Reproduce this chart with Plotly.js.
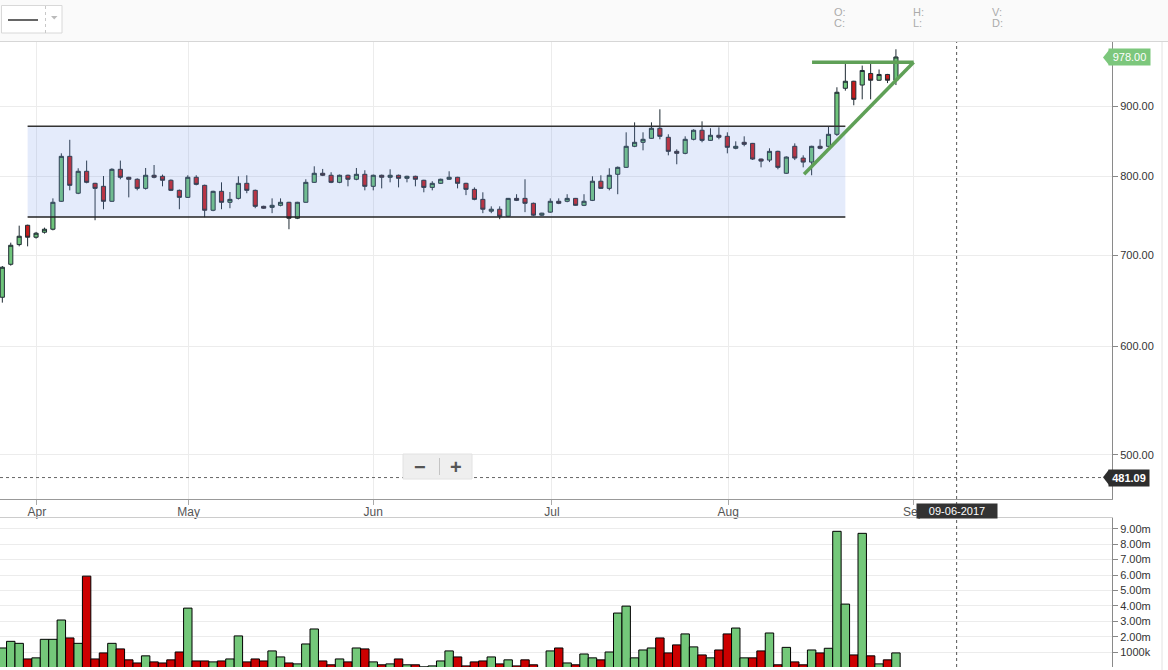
<!DOCTYPE html>
<html><head><meta charset="utf-8">
<script src="https://cdn.plot.ly/plotly-3.0.1.min.js"></script>
<style>html,body{margin:0;padding:0;background:#fff;}#chart{width:1168px;height:670px;}</style>
</head><body><div id="chart"></div>
<script>
// ---- data (trading-day index 0..106, late Mar .. end Aug 2017) ----
const opens  = [652.1,689.4,712.7,736.3,721.6,727.7,731.4,766.7,827.1,777.2,806.5,790.3,786.3,766.7,809.2,798.4,795.7,783.6,801.1,799.7,794.4,781.0,771.8,798.4,787.6,755.2,779.7,765.4,770.5,790.3,781.0,760.2,758.9,761.5,765.4,745.1,765.4,791.6,803.8,801.1,791.6,801.1,795.7,802.4,786.3,801.1,798.4,801.1,797.0,799.7,794.4,784.9,790.3,795.7,798.4,790.3,782.3,769.2,754.0,756.5,747.6,770.5,770.5,764.1,748.9,752.8,766.7,766.7,770.5,761.5,767.9,793.1,783.6,802.4,811.9,841.2,846.9,852.6,867.2,854.1,834.1,831.3,851.2,864.3,849.7,857.0,855.5,838.4,846.9,845.4,823.3,821.9,834.1,803.8,841.2,824.7,819.1,841.2,841.2,858.4,927.7,938.8,932.8,951.2,940.4,949.6,940.4];
const highs  = [687.4,715.0,735.8,737.0,728.1,733.4,770.5,831.3,850.5,810.6,821.2,791.0,800.1,810.6,821.2,799.0,797.0,811.0,815.1,802.0,795.5,782.0,801.1,801.1,788.5,780.5,791.6,778.8,799.7,801.1,782.0,761.0,770.5,770.5,766.0,766.0,795.7,813.3,809.7,805.2,802.0,802.0,811.0,807.9,802.0,802.0,809.2,802.0,800.5,800.5,795.0,793.1,796.5,806.5,799.0,791.0,784.9,778.4,760.2,760.2,771.0,775.9,795.7,765.0,752.0,770.5,770.5,775.9,771.0,775.9,799.7,801.1,810.6,813.0,861.3,875.9,861.3,875.9,895.4,858.4,836.9,855.5,865.7,877.4,867.2,868.6,861.3,848.3,855.5,846.0,824.0,838.4,835.0,827.0,845.4,828.5,842.0,851.2,870.0,929.3,970.4,939.5,963.9,970.4,957.6,950.5,990.8];
const lows   = [646.2,687.8,710.6,710.6,719.9,726.0,730.0,766.0,781.0,776.0,790.3,742.6,756.5,766.0,795.7,771.8,781.0,782.0,797.0,786.3,780.0,756.5,771.0,787.6,746.4,754.0,756.5,757.8,769.0,777.2,757.8,757.0,751.5,760.2,731.4,744.0,765.0,791.0,800.0,790.5,790.5,786.3,794.4,781.0,781.0,783.6,791.6,784.9,791.6,786.3,778.4,781.0,789.5,795.0,783.6,774.7,768.0,751.5,751.5,743.9,747.0,767.0,752.8,748.0,748.0,752.0,763.0,765.4,761.0,760.5,767.0,783.0,781.0,775.9,811.0,840.0,835.5,852.0,851.2,828.5,816.1,830.0,849.7,846.9,849.0,851.2,831.3,837.0,841.2,822.0,811.9,819.1,809.2,803.0,821.9,811.9,801.1,837.0,840.0,856.0,924.0,901.5,910.6,910.6,939.5,935.9,932.8];
const closes = [686.0,711.9,722.8,721.6,726.5,731.4,765.4,827.1,787.6,806.5,791.6,783.6,766.7,809.2,798.4,795.7,783.6,801.1,798.4,794.4,781.0,771.8,798.4,788.9,755.2,779.7,765.4,769.2,790.3,781.0,760.2,757.8,761.5,765.4,745.1,765.4,791.6,803.8,801.1,791.6,801.1,795.7,802.4,786.3,801.1,798.4,801.1,797.0,799.7,795.7,784.9,790.3,795.7,798.4,790.3,782.3,769.2,756.5,756.5,747.6,770.5,767.9,764.1,748.9,751.5,766.7,764.1,770.5,761.5,766.7,793.1,783.6,801.1,811.9,841.2,846.9,851.2,867.2,855.5,834.1,831.3,851.2,864.3,849.7,857.0,854.1,839.8,841.2,844.0,823.3,820.5,834.1,811.9,826.1,824.7,819.1,841.2,838.4,858.4,921.5,938.8,910.6,956.0,940.4,949.6,940.4,978.0];
// volume in millions of shares, and bar direction as drawn (1 = up/green, 0 = down/red)
const volumesM = [1.28,1.71,1.58,0.57,0.64,1.84,1.84,3.09,1.93,1.58,5.93,0.57,0.96,1.58,1.22,0.51,0.31,0.77,0.38,0.31,0.51,1.02,3.86,0.44,0.44,0.38,0.44,0.57,2.06,0.38,0.57,0.44,1.09,0.70,0.31,0.25,1.54,2.51,0.44,0.19,0.57,0.38,1.28,1.22,0.38,0.19,0.25,0.57,0.19,0.19,0.06,0.12,0.44,1.09,0.70,0.12,0.38,0.44,0.70,0.25,0.51,0.12,0.51,0.19,0.0,1.09,1.28,0.31,0.19,0.89,0.64,0.51,1.02,3.54,3.99,0.64,1.15,1.28,1.93,0.96,1.48,2.19,1.35,0.83,0.64,1.15,2.19,2.57,0.64,0.64,1.09,2.25,0.19,1.32,0.38,0.19,1.15,0.96,1.26,8.83,4.12,0.83,8.70,0.77,0.25,0.51,0.96];
const volumeUp = [1,1,1,0,1,1,1,1,0,1,0,0,0,1,0,0,0,1,0,0,0,0,1,0,0,1,0,1,1,0,0,0,1,1,0,1,1,1,0,0,1,0,1,0,1,0,1,0,1,0,1,1,1,1,0,0,0,0,1,0,1,0,0,0,1,1,0,1,0,1,1,0,1,1,1,1,1,1,0,0,0,1,1,0,1,0,0,1,1,0,0,1,0,1,0,0,1,0,1,1,1,0,1,0,1,0,1];
const monthTickPos  = [4.1, 22.1, 44.0, 65.2, 86.1, 108.1];
const monthTickText = ['Apr','May','Jun','Jul','Aug','Sep'];
const priceTickVals = [500, 600, 700, 800, 900];
const volumeTickVals = [1,2,3,4,5,6,7,8,9];
const volumeTickText = ['1000k','2.00m','3.00m','4.00m','5.00m','6.00m','7.00m','8.00m','9.00m'];
// drawn annotations: consolidation range, triangle, crosshair
const rangeStart = 3, rangeEnd = 100, rangeHigh = 870.0, rangeLow = 746.5;
const triStartX = 95.1, triStartY = 802.4, triLeftX = 96.05, triEndX = 108.1, triTopY = 969.3;
const crossIndex = 113.2, crossPrice = 481.09, crossDate = '09-06-2017';

// ---- figure ----
const W = 1112, H = 625, T = 42;
const px = p => p / W;               // pixel x -> paper
const py = p => (T + H - p) / H;     // pixel y -> paper
const idx = opens.map((_, i) => i);
const FONT = 'Liberation Sans, Arial, sans-serif';

const candle = {
  type: 'candlestick', x: idx, open: opens, high: highs, low: lows, close: closes,
  xaxis: 'x', yaxis: 'y', hoverinfo: 'skip', whiskerwidth: 0,
  increasing: {fillcolor: '#6fc57b', line: {color: '#1f2b33', width: 1}},
  decreasing: {fillcolor: '#c81c1c', line: {color: '#1f2b33', width: 1}},
  showlegend: false
};
const vol = {
  type: 'bar', x: idx, y: volumesM.map(v => v * 1e6), xaxis: 'x2', yaxis: 'y2',
  marker: {color: volumeUp.map(u => u ? '#74c87a' : '#cc0000'), line: {color: '#000', width: 1}},
  hoverinfo: 'skip', showlegend: false
};

const last = closes.length - 1;
const shapes = [
  // header
  {type:'rect', xref:'paper', yref:'paper', x0:px(0), x1:px(1168), y0:py(0), y1:py(41.5), fillcolor:'#fafafa', line:{width:0}},
  {type:'line', xref:'paper', yref:'paper', x0:px(0), x1:px(1168), y0:py(41.5), y1:py(41.5), line:{color:'#d6d6d6', width:1}},
  {type:'rect', xref:'paper', yref:'paper', x0:px(1.5), x1:px(62), y0:py(5.5), y1:py(33), fillcolor:'#ffffff', line:{color:'#d8d8d8', width:1}},
  {type:'line', xref:'paper', yref:'paper', x0:px(8), x1:px(38), y0:py(20), y1:py(20), line:{color:'#666', width:2}},
  {type:'line', xref:'paper', yref:'paper', x0:px(45.5), x1:px(45.5), y0:py(6), y1:py(33), line:{color:'#c8c8c8', width:1, dash:'dot'}},
  {type:'path', xref:'paper', yref:'paper', path:`M${px(51)},${py(16)} L${px(57.5)},${py(16)} L${px(54.2)},${py(19.5)} Z`, fillcolor:'#bbbbbb', line:{width:0}},
  // right frame line
  {type:'line', xref:'paper', yref:'paper', x0:px(1162), x1:px(1162), y0:py(42), y1:py(670), line:{color:'#e2e2e2', width:1}},
  // consolidation range
  {type:'rect', xref:'x', yref:'y', x0:rangeStart, x1:rangeEnd, y0:rangeLow, y1:rangeHigh, fillcolor:'rgba(120,155,235,0.2)', line:{width:0}, layer:'above'},
  {type:'line', xref:'x', yref:'y', x0:rangeStart, x1:rangeEnd, y0:rangeHigh, y1:rangeHigh, line:{color:'#333', width:1.5}},
  {type:'line', xref:'x', yref:'y', x0:rangeStart, x1:rangeEnd, y0:rangeLow, y1:rangeLow, line:{color:'#222', width:1.5}},
  // triangle
  {type:'line', xref:'x', yref:'y', x0:triLeftX, x1:triEndX, y0:triTopY, y1:triTopY, line:{color:'#5fa057', width:3.5}},
  {type:'line', xref:'x', yref:'y', x0:triStartX, x1:triEndX, y0:triStartY, y1:triTopY, line:{color:'#5fa057', width:3.5}},
  // crosshair
  {type:'line', xref:'x', yref:'paper', x0:crossIndex, x1:crossIndex, y0:0, y1:1, line:{color:'#555', width:1, dash:'3px,3px'}},
  {type:'line', xref:'paper', yref:'y', x0:0, x1:px(1104), y0:crossPrice, y1:crossPrice, line:{color:'#666', width:1, dash:'3px,3px'}},
  // zoom control
  {type:'rect', xref:'paper', yref:'paper', x0:px(403), x1:px(472), y0:py(454), y1:py(479), fillcolor:'#efefef', line:{color:'#e2e2e2', width:1}},
  {type:'line', xref:'paper', yref:'paper', x0:px(439.5), x1:px(439.5), y0:py(458), y1:py(475), line:{color:'#c4c4c4', width:1}},
  // price label arrows
  {type:'path', xref:'paper', yref:'paper', path:`M${px(1103)},${py(477.3)} L${px(1109)},${py(469.5)} L${px(1109)},${py(485)} Z`, fillcolor:'#2d2d2d', line:{width:0}},
  {type:'path', xref:'paper', yref:'paper', path:`M${px(1103)},${py(57.5)} L${px(1109)},${py(50)} L${px(1109)},${py(65)} Z`, fillcolor:'#7cc77c', line:{width:0}}
];

const hdr = (t, x, y, c) => ({text:t, xref:'paper', yref:'paper', x:px(x), y:py(y), xanchor:'left', yanchor:'middle', showarrow:false, font:{family:FONT, size:11, color:c}});
const ctr = {xanchor:'center', yanchor:'middle', showarrow:false};
const annotations = [
  hdr('O:', 832, 12, '#ababab'), hdr('C:', 832, 23, '#ababab'),
  hdr('H:', 911, 12, '#ababab'), hdr('L:', 911, 23, '#ababab'),
  hdr('V:', 990, 12, '#ababab'), hdr('D:', 990, 23, '#ababab'),
  Object.assign({text:'<b>−</b>', xref:'paper', yref:'paper', x:px(420), y:py(466.5), font:{family:FONT, size:20, color:'#555'}}, ctr),
  Object.assign({text:'<b>+</b>', xref:'paper', yref:'paper', x:px(455.5), y:py(466.5), font:{family:FONT, size:20, color:'#555'}}, ctr),
  Object.assign({text:crossDate, xref:'x', yref:'paper', x:crossIndex, y:py(511), bgcolor:'#333333', width:78, height:12, borderpad:1, font:{family:FONT, size:11, color:'#ffffff'}}, ctr),
  Object.assign({text:'<b>' + crossPrice.toFixed(2) + '</b>', xref:'paper', yref:'y', x:px(1128.5), y:Math.log10(crossPrice), bgcolor:'#2d2d2d', width:38, height:14, borderpad:1, font:{family:FONT, size:11, color:'#ffffff'}}, ctr),
  Object.assign({text:closes[last].toFixed(2), xref:'paper', yref:'y', x:px(1129.5), y:Math.log10(closes[last]), bgcolor:'#7cc77c', width:39, height:14, borderpad:1, font:{family:FONT, size:11, color:'#ffffff'}}, ctr)
];

const layout = {
  width: 1168, height: 670,
  margin: {l: 0, r: 56, t: T, b: 3},
  paper_bgcolor: '#ffffff', plot_bgcolor: '#ffffff',
  showlegend: false, bargap: 0, boxgap: 0.3, dragmode: false,
  font: {family: FONT},
  xaxis: {
    domain: [0, 1], range: [-0.276, 131.63], anchor: 'y',
    rangeslider: {visible: false},
    tickmode: 'array', tickvals: monthTickPos, ticktext: monthTickText,
    ticks: 'outside', ticklen: 5, tickcolor: '#aaa', ticklabelstandoff: -4,
    showgrid: true, gridcolor: '#ececec', zeroline: false,
    showline: true, linecolor: '#999', linewidth: 1,
    tickfont: {family: FONT, size: 12, color: '#555'}
  },
  yaxis: {
    domain: [py(499.3), 1], type: 'log', range: [2.6663, 3.00132], side: 'right', anchor: 'x',
    tickmode: 'array', tickvals: priceTickVals, ticktext: priceTickVals.map(v => v.toFixed(2)),
    ticks: 'outside', ticklen: 5, tickcolor: '#888',
    showgrid: true, gridcolor: '#ececec', zeroline: false,
    showline: true, linecolor: '#8a8a8a', linewidth: 1,
    tickfont: {family: FONT, size: 11, color: '#333'}
  },
  xaxis2: {
    domain: [0, 1], range: [-0.276, 131.63], anchor: 'y2', matches: 'x', side: 'top',
    showticklabels: false, ticks: '', showgrid: false, zeroline: false,
    showline: true, linecolor: '#cccccc', linewidth: 1
  },
  yaxis2: {
    domain: [0, py(518.3)], range: [0.0485e6, 9.673e6], side: 'right', anchor: 'x2',
    tickmode: 'array', tickvals: volumeTickVals.map(v => v * 1e6), ticktext: volumeTickText,
    ticks: 'outside', ticklen: 5, tickcolor: '#888',
    showgrid: true, gridcolor: '#ececec', zeroline: false,
    showline: true, linecolor: '#8a8a8a', linewidth: 1,
    tickfont: {family: FONT, size: 11, color: '#333'}
  },
  shapes: shapes,
  annotations: annotations
};

Plotly.newPlot('chart', [candle, vol], layout, {displayModeBar: false, staticPlot: true});
</script>
</body></html>
